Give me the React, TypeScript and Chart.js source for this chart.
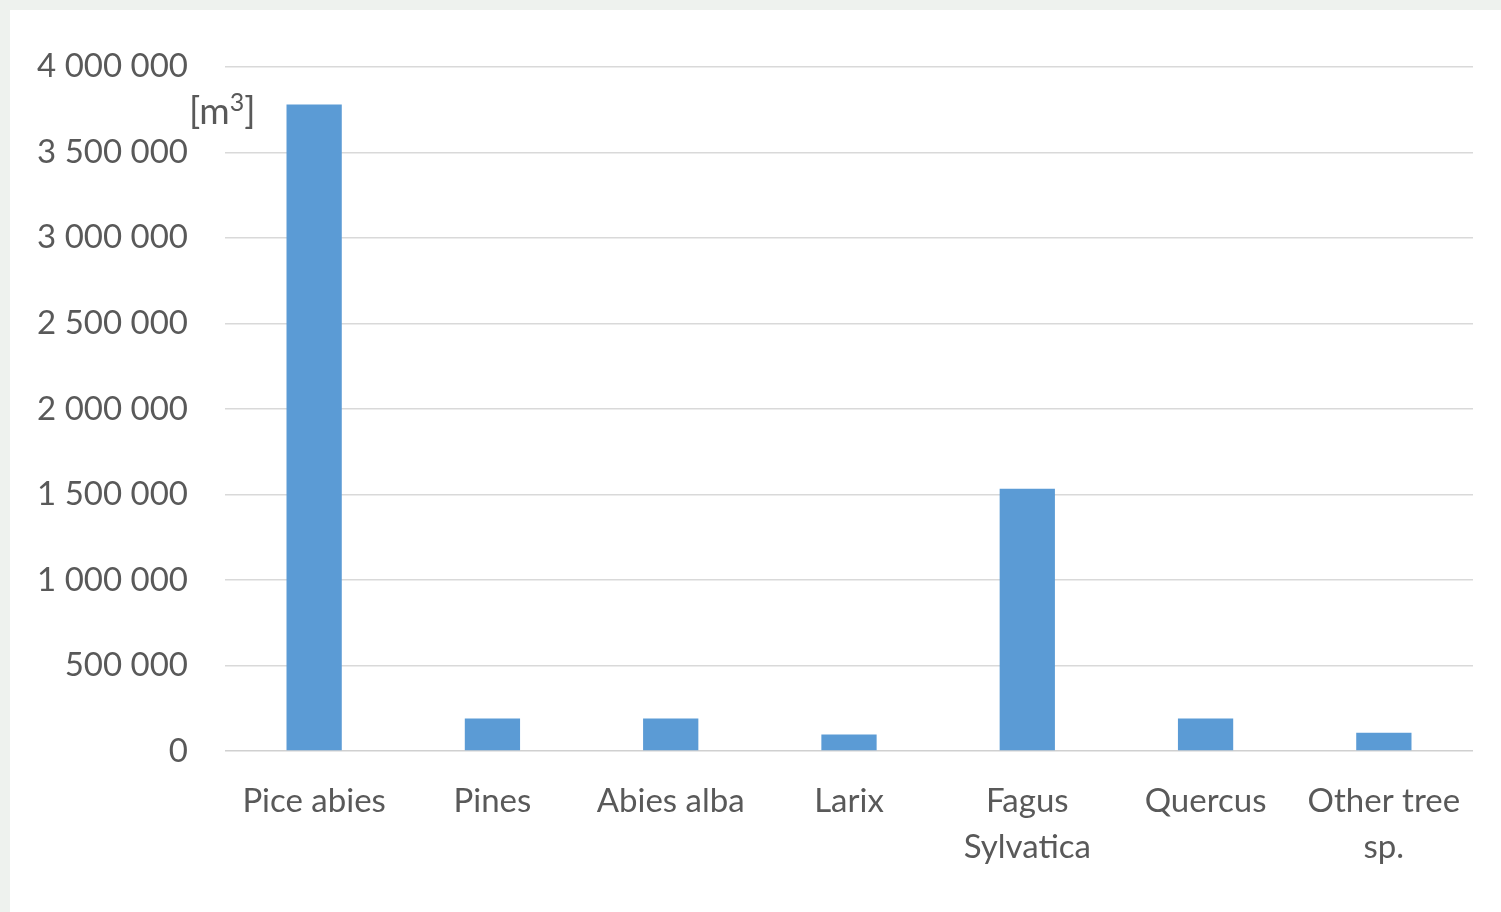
import React, { useEffect, useRef } from "react";
import { Chart, registerables } from "chart.js";

Chart.register(...registerables);

const categories: (string | string[])[] = [
  "Pice abies",
  "Pines",
  "Abies alba",
  "Larix",
  ["Fagus", "Sylvatica"],
  "Quercus",
  ["Other tree", "sp."],
];
const volumes: number[] = [3780000, 190000, 190000, 96000, 1533000, 190000, 107000];
const yMin = 0;
const yMax = 4000000;
const yStep = 500000;

const FONT = "Lato, 'Open Sans', sans-serif";
const TEXT = "#595959";

function formatTick(v: number): string {
  return String(Math.round(v)).replace(/\B(?=(\d{3})+(?!\d))/g, " ");
}

export default function App() {
  const ref = useRef<HTMLCanvasElement | null>(null);

  useEffect(() => {
    if (!ref.current) return;
    const chart = new Chart(ref.current, {
      type: "bar",
      data: {
        labels: categories,
        datasets: [
          {
            data: volumes,
            backgroundColor: "#5B9BD5",
            borderWidth: 0,
            barPercentage: 0.31,
            categoryPercentage: 1,
          },
        ],
      },
      options: {
        animation: false,
        responsive: false,
        maintainAspectRatio: false,
        layout: { padding: { left: 0, top: 56, right: 28, bottom: 0 } },
        plugins: {
          legend: { display: false },
          tooltip: { enabled: false },
        },
        scales: {
          x: {
            grid: { display: false, drawTicks: false },
            border: { display: false },
            ticks: {
              color: TEXT,
              font: { family: FONT, size: 33, lineHeight: 1.4 },
              padding: 27,
              maxRotation: 0,
              autoSkip: false,
            },
            afterFit: (scale: any) => {
              scale.height = 161;
            },
          },
          y: {
            min: yMin,
            max: yMax,
            grid: {
              color: (ctx: any) => (ctx.tick && ctx.tick.value === 0 ? "#d0d0d0" : "#d9d9d9"),
              lineWidth: 1.6,
              drawTicks: false,
            },
            border: { display: false },
            ticks: {
              stepSize: yStep,
              color: TEXT,
              font: { family: FONT, size: 33 },
              padding: 37,
              callback: (v: any) => formatTick(Number(v)),
            },
            afterFit: (scale: any) => {
              scale.width = 215;
            },
          },
        },
      },
    });
    return () => chart.destroy();
  }, []);

  return (
    <div
      style={{
        position: "fixed",
        left: 0,
        top: 0,
        width: 1501,
        height: 912,
        background: "#eef2ee",
        overflow: "hidden",
      }}
    >
      <div
        style={{
          position: "absolute",
          left: 10,
          top: 10,
          width: 1491,
          height: 902,
          background: "#ffffff",
        }}
      >
        <canvas ref={ref} width={1491} height={902} style={{ display: "block" }} />
        <div
          style={{
            position: "absolute",
            left: 179,
            top: 80,
            fontFamily: FONT,
            fontSize: 37,
            color: TEXT,
            lineHeight: "40px",
            whiteSpace: "nowrap",
          }}
        >
          [m<sup style={{ fontSize: 25, verticalAlign: "super", lineHeight: 0 }}>3</sup>]
        </div>
      </div>
    </div>
  );
}
